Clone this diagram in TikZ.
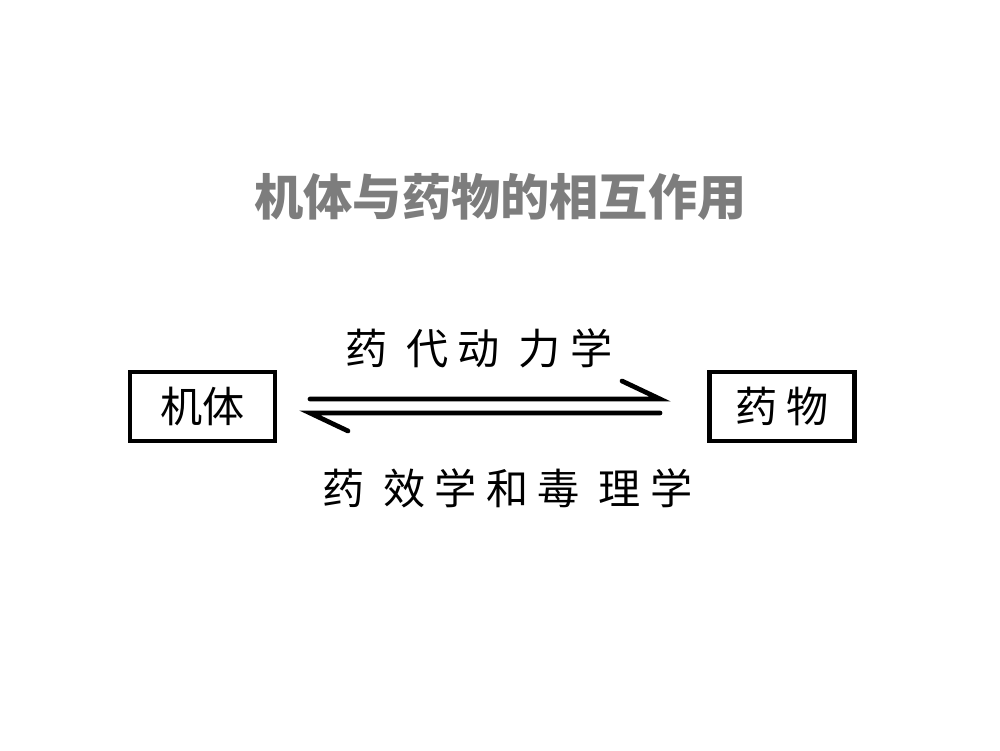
\documentclass[tikz,border=0pt]{standalone}
\usepackage{fontspec}
\newfontfamily\cjk{Noto Sans CJK SC}
\newfontfamily\cjkwide[LetterSpace=22]{Noto Sans CJK SC}
\definecolor{titlegray}{RGB}{125,125,125}
\begin{document}
\begin{tikzpicture}[
  heading/.style={font=\cjk\bfseries\fontsize{28}{32}\selectfont, text=titlegray},
  box/.style={draw, line width=2.3pt, minimum width=2.9cm, minimum height=1.38cm,
              inner sep=0pt, font=\cjk\fontsize{24}{27}\selectfont},
  flowtext/.style={inner sep=0pt, font=\cjkwide\fontsize{24}{27}\selectfont},
  flow/.style={line width=2.7pt, line cap=round}
]
  \useasboundingbox (0,0) rectangle (20,15);

  % Title
  \node[heading] (head) at (10.01,11.06) {机体与药物的相互作用};

  % Boxes
  \node[box] (body) at (4.05,6.87) {机体};
  \node[box] (drug) at (15.64,6.87) {药 物};

  % Arrow ends
  \coordinate (fwdA) at (6.2,7.02);
  \coordinate (fwdB) at (13.2,7.02);
  \coordinate (fwdBarb) at (12.44,7.38);
  \coordinate (backA) at (13.2,6.74);
  \coordinate (backB) at (6.2,6.74);
  \coordinate (backBarb) at (6.96,6.38);

  % Harpoons
  \draw[flow] (fwdA) -- (fwdB) -- (fwdBarb);
  \draw[flow] (backA) -- (backB) -- (backBarb);

  % Labels
  \node[flowtext] (pk) at (9.58,8.04) {药 代动 力学};
  \node[flowtext] (pd) at (10.15,5.24) {药 效学和毒 理学};
\end{tikzpicture}
\end{document}
